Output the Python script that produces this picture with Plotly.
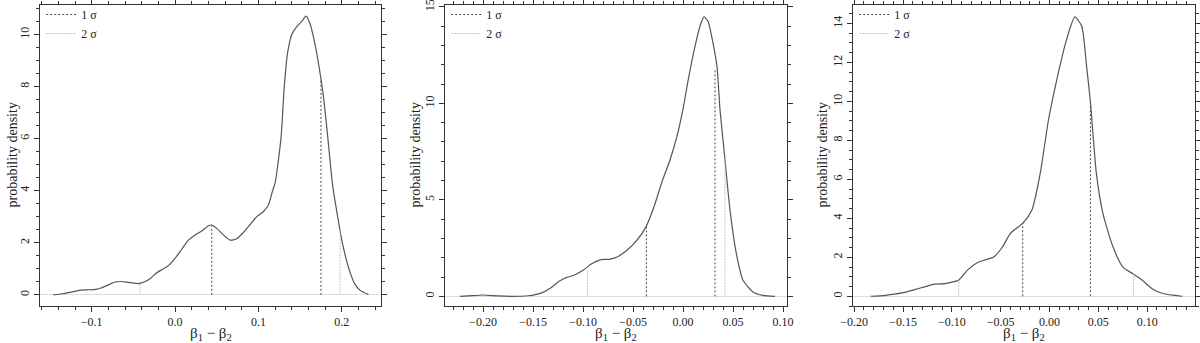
import plotly.graph_objects as go

# ---- panel 1 ----
p1_x = [-0.146, -0.135, -0.125, -0.115, -0.105, -0.095, -0.088, -0.080, -0.072, -0.065,
        -0.058, -0.050, -0.044, -0.038, -0.030, -0.022, -0.015, -0.008, 0.000, 0.008,
        0.016, 0.024, 0.032, 0.040, 0.044, 0.050, 0.058, 0.066, 0.074, 0.082,
        0.090, 0.098, 0.106, 0.112, 0.117, 0.120, 0.127, 0.131, 0.135, 0.140,
        0.146, 0.152, 0.157, 0.162, 0.168, 0.173, 0.178, 0.183, 0.189, 0.195,
        0.200, 0.205, 0.210, 0.215, 0.222, 0.232]
p1_y = [0.00, 0.04, 0.10, 0.17, 0.19, 0.21, 0.27, 0.38, 0.49, 0.51,
        0.49, 0.45, 0.43, 0.48, 0.62, 0.85, 0.98, 1.12, 1.40, 1.75,
        2.10, 2.30, 2.45, 2.65, 2.68, 2.55, 2.30, 2.10, 2.15, 2.40,
        2.70, 3.00, 3.20, 3.45, 4.00, 4.30, 6.00, 8.00, 9.30, 10.00,
        10.30, 10.50, 10.70, 10.40, 9.60, 8.70, 7.60, 6.10, 4.20, 3.00,
        2.10, 1.40, 0.85, 0.45, 0.17, 0.01]
p1_s1_x = [0.044, 0.175]
p1_s1_y = [2.65, 8.3]
p1_s2_x = [-0.042, 0.198]
p1_s2_y = [0.43, 2.5]

# ---- panel 2 ----
p2_x = [-0.223, -0.215, -0.200, -0.185, -0.172, -0.155, -0.142, -0.132, -0.125, -0.117,
        -0.109, -0.100, -0.091, -0.082, -0.074, -0.066, -0.056, -0.046, -0.037, -0.029,
        -0.021, -0.013, -0.006, 0.000, 0.0055, 0.012, 0.017, 0.021, 0.025, 0.030,
        0.034, 0.037, 0.042, 0.047, 0.054, 0.060, 0.070, 0.080, 0.092]
p2_y = [0.00, 0.02, 0.07, 0.02, 0.00, 0.03, 0.17, 0.45, 0.74, 0.97,
        1.09, 1.35, 1.70, 1.90, 1.92, 2.04, 2.39, 2.91, 3.60, 4.64,
        5.94, 7.07, 8.30, 9.70, 11.30, 12.96, 14.00, 14.48, 14.26, 13.13,
        11.92, 9.67, 7.07, 4.47, 2.04, 0.83, 0.23, 0.05, 0.00]
p2_s1_x = [-0.0366, 0.032]
p2_s1_y = [3.6, 11.8]
p2_s2_x = [-0.0956, 0.042]
p2_s2_y = [1.35, 7.2]

# ---- panel 3 ----
p3_x = [-0.183, -0.168, -0.151, -0.138, -0.128, -0.118, -0.107, -0.099, -0.093, -0.084,
        -0.074, -0.064, -0.057, -0.048, -0.040, -0.027, -0.018, -0.0095, -0.001, 0.0074,
        0.0176, 0.026, 0.033, 0.038, 0.042, 0.048, 0.0547, 0.065, 0.075, 0.086,
        0.095, 0.105, 0.116, 0.136]
p3_y = [0.00, 0.05, 0.17, 0.34, 0.48, 0.62, 0.65, 0.74, 0.82, 1.34,
        1.72, 1.89, 2.02, 2.54, 3.23, 3.77, 4.43, 6.31, 9.06, 11.10,
        13.20, 14.34, 13.86, 11.80, 9.92, 6.31, 4.25, 2.54, 1.51, 1.13,
        0.82, 0.39, 0.14, 0.00]
p3_s1_x = [-0.0274, 0.0419]
p3_s1_y = [3.77, 9.9]
p3_s2_x = [-0.093, 0.086]
p3_s2_y = [0.82, 1.13]

x_title = 'β<sub>1</sub> − β<sub>2</sub>'
y_title = 'probability density'

x_ranges = [[-0.162, 0.247], [-0.238, 0.104], [-0.2012, 0.149]]
y_ranges = [[-0.43, 11.13], [-0.5, 15.1], [-0.5, 14.95]]
x_major = [0.1, 0.05, 0.05]
x_minor = [0.02, 0.01, 0.01]
y_major = [2, 5, 2]
y_minor = [0.5, 1, 0.5]
x_domains = [[40 / 1200, 381 / 1200], [445 / 1200, 787 / 1200], [853 / 1200, 1195 / 1200]]
y_title_x = [12 / 1200, 415 / 1200, 822 / 1200]
x_fmt = ['.1f', '.2f', '.2f']

panels = [
    (p1_x, p1_y, p1_s1_x, p1_s1_y, p1_s2_x, p1_s2_y),
    (p2_x, p2_y, p2_s1_x, p2_s1_y, p2_s2_x, p2_s2_y),
    (p3_x, p3_y, p3_s1_x, p3_s1_y, p3_s2_x, p3_s2_y),
]

serif = 'Liberation Serif'
fig = go.Figure()
annotations = []

for i, (cx, cy, s1x, s1y, s2x, s2y) in enumerate(panels):
    n = '' if i == 0 else str(i + 1)
    xa, ya, lg = 'x' + n, 'y' + n, 'legend' + n

    fig.add_trace(go.Scatter(x=cx, y=cy, mode='lines', showlegend=False,
                             line=dict(color='#555555', width=1.2, shape='spline', smoothing=0.6),
                             xaxis=xa, yaxis=ya))
    # vertical sigma lines, from 0 up to the curve
    fig.add_trace(go.Scatter(x=[s1x[0], s1x[0], None, s1x[1], s1x[1]],
                             y=[0, s1y[0], None, 0, s1y[1]],
                             mode='lines', name='1 σ', legend=lg,
                             line=dict(color='#444444', width=1, dash='2px,2px'),
                             xaxis=xa, yaxis=ya))
    fig.add_trace(go.Scatter(x=[s2x[0], s2x[0], None, s2x[1], s2x[1]],
                             y=[0, s2y[0], None, 0, s2y[1]],
                             mode='lines', name='2 σ', legend=lg,
                             line=dict(color='#c4c4c4', width=1, dash='2px,1px'),
                             xaxis=xa, yaxis=ya))

    axis_common = dict(showline=True, linecolor='#333333', linewidth=1, mirror='allticks',
                       ticks='outside', ticklen=5, tickcolor='#333333', showgrid=False,
                       automargin=False, ticklabeloverflow='allow',
                       tickfont=dict(family=serif, size=12, color='#222222'))
    fig.update_layout(**{
        'xaxis' + n: dict(axis_common, domain=x_domains[i], range=x_ranges[i],
                          anchor=ya, tick0=0, dtick=x_major[i], tickformat=x_fmt[i],
                          zeroline=False,
                          minor=dict(ticks='outside', ticklen=3, dtick=x_minor[i],
                                     tick0=0, tickcolor='#333333', showgrid=False)),
        'yaxis' + n: dict(axis_common, domain=[1 - 306 / 343, 1 - 5 / 343], range=y_ranges[i],
                          anchor=xa, tick0=0, dtick=y_major[i], tickangle=-90,
                          zeroline=True, zerolinecolor='#dddddd', zerolinewidth=1,
                          minor=dict(ticks='outside', ticklen=3, dtick=y_minor[i],
                                     tick0=0, tickcolor='#333333', showgrid=False)),
        lg: dict(x=x_domains[i][0] + 0.001, y=1.0, xanchor='left', yanchor='top',
                 bgcolor='rgba(0,0,0,0)', itemwidth=30, tracegroupgap=0,
                 font=dict(family=serif, size=12, color='#222222')),
    })

    annotations.append(dict(text=x_title, xref=xa + ' domain', x=0.5, yref='paper',
                            y=1 - 333.5 / 343, xanchor='center', yanchor='middle', showarrow=False,
                            font=dict(family=serif, size=15, color='#222222')))
    annotations.append(dict(text=y_title, xref='paper', x=y_title_x[i], yref=ya + ' domain',
                            y=0.5, textangle=-90, xanchor='center', yanchor='middle',
                            showarrow=False, font=dict(family=serif, size=14, color='#222222')))

fig.update_layout(width=1200, height=343,
                  margin=dict(l=0, r=0, t=0, b=0, pad=0, autoexpand=False),
                  paper_bgcolor='white', plot_bgcolor='white',
                  font=dict(family=serif), annotations=annotations)

# drop the page's default body margin so the figure sits at the window's corner
fig.write_html('out.html', config={'displayModeBar': False},
               post_script="document.body.style.margin='0';document.body.style.overflow='hidden';")
